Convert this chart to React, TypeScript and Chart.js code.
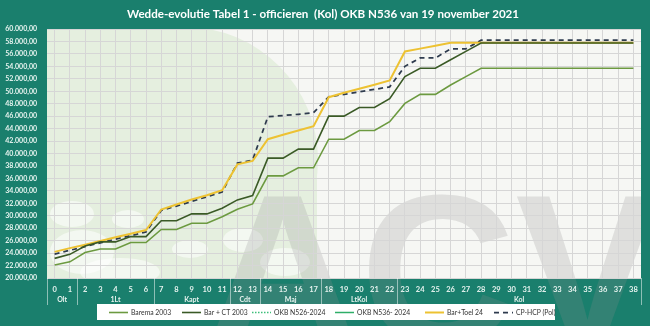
import React, { useEffect, useRef } from 'react';
import { Chart, registerables } from 'chart.js';

Chart.register(...registerables);

const categories = ['0','1','2','3','4','5','6','7','8','9','10','11','12','13','14','15','16','17','18','19','20','21','22','23','24','25','26','27','28','29','30','31','32','33','34','35','36','37','38'];

const groupLabels = ['Olt', '1Lt', 'Kapt', 'Cdt', 'Maj', 'LtKol', 'Kol'];
const groupStarts = [0, 2, 7, 12, 14, 18, 23];
const groupEnds = [1, 6, 11, 13, 17, 22, 38];

const barema2003 = [22100, 22600, 24100, 24650, 24650, 25700, 25700, 27800, 27800, 28800, 28800, 29850, 31050, 31900, 36400, 36400, 37700, 37700, 42300, 42300, 43700, 43700, 45100, 48050, 49500, 49500, 51000, 52350, 53700, 53700, 53700, 53700, 53700, 53700, 53700, 53700, 53700, 53700, 53700];
const barCT2003 = [23150, 23800, 25150, 25800, 25800, 26650, 26650, 29200, 29200, 30300, 30300, 31200, 32550, 33250, 39250, 39250, 40700, 40700, 46000, 46000, 47400, 47400, 48800, 52350, 53700, 53700, 55050, 56400, 57750, 57750, 57750, 57750, 57750, 57750, 57750, 57750, 57750, 57750, 57750];
const okbN526 = [null, null, null, null, null, null, null, null, null, null, null, null, null, null, null, null, null, null, null, null, null, null, null, null, null, null, null, null, null, null, null, null, null, null, null, null, null, null, null];
const okbN536 = [null, null, null, null, null, null, null, null, null, null, null, null, null, null, null, null, null, null, null, null, null, null, null, null, null, null, null, null, null, null, null, null, null, null, null, null, null, null, null];
const barToel24 = [24200, 24800, 25350, 25950, 26550, 27100, 27700, 31000, 31800, 32600, 33300, 34100, 38250, 38800, 42300, 43000, 43700, 44400, 49050, 49750, 50400, 51050, 51750, 56400, 56850, 57300, 57800, 57800, 57800, 57800, 57800, 57800, 57800, 57800, 57800, 57800, 57800, 57800, 57800];
const cpHcpPol = [23850, 24450, 25050, 25650, 26250, 26800, 27400, 30850, 31550, 32300, 33050, 33800, 38450, 38950, 45900, 46100, 46300, 46550, 49100, 49500, 49900, 50300, 50700, 54000, 55350, 55350, 56800, 56800, 58200, 58200, 58200, 58200, 58200, 58200, 58200, 58200, 58200, 58200, 58200];

const TEAL = '#1A7F6D';
const LABEL = '#E6F3EF';
const FONT = 'Lato, "Liberation Sans", sans-serif';

function fmt(v: number): string {
  const s = Math.round(v).toString();
  return s.replace(/\B(?=(\d{3})+(?!\d))/g, '.') + ',00';
}

const bgPlugin = {
  id: 'bgDecor',
  beforeDraw(chart: any) {
    const { ctx, chartArea: a, width, height } = chart;
    ctx.save();
    ctx.fillStyle = TEAL;
    ctx.fillRect(0, 0, width, height);
    ctx.save();
    ctx.beginPath();
    ctx.rect(a.left, a.top, a.right - a.left, a.bottom - a.top);
    ctx.clip();
    ctx.fillStyle = '#F6F7F4';
    ctx.fillRect(a.left, a.top, a.right - a.left, a.bottom - a.top);
    ctx.fillStyle = '#E5EFDF';
    ctx.beginPath();
    ctx.arc(185, 160, 133, 0, Math.PI * 2);
    ctx.fill();
    ctx.fillRect(a.left, a.top, 150, a.bottom - a.top);
    ctx.fillRect(a.left, 160, 270, a.bottom - 160);
    ctx.fillStyle = 'rgba(255,255,255,0.55)';
    const blobs = [[72, 214, 22, 13], [128, 219, 16, 9], [82, 252, 32, 22], [190, 249, 18, 9], [243, 240, 20, 12], [120, 272, 40, 14], [285, 262, 25, 14]];
    for (const b of blobs) {
      ctx.beginPath();
      ctx.ellipse(b[0], b[1], b[2], b[3], 0, 0, Math.PI * 2);
      ctx.fill();
    }
    ctx.restore();
    ctx.save();
    ctx.beginPath();
    ctx.rect(a.left, a.top, a.right - a.left, height - a.top);
    ctx.clip();
    ctx.fillStyle = 'rgba(140,140,140,0.22)';
    ctx.font = 'bold 215px "Liberation Sans", sans-serif';
    ctx.textBaseline = 'alphabetic';
    ctx.textAlign = 'left';
    ctx.fillText('ACV', 205, 345);
    ctx.restore();
    ctx.restore();
  },
};

const overlayPlugin = {
  id: 'overlay',
  afterDraw(chart: any) {
    const { ctx } = chart;
    const x = chart.scales.x;
    const a = chart.chartArea;
    const half = (x.getPixelForValue(1) - x.getPixelForValue(0)) / 2;
    ctx.save();
    ctx.fillStyle = '#FFFFFF';
    ctx.font = 'bold 11.6px ' + FONT;
    ctx.textAlign = 'center';
    ctx.textBaseline = 'middle';
    ctx.fillText('Wedde-evolutie Tabel 1 - officieren  (Kol) OKB N536 van 19 november 2021', 323, 14);
    ctx.strokeStyle = 'rgba(255,255,255,0.5)';
    ctx.lineWidth = 1;
    const lines: number[] = [];
    for (let i = 0; i < groupStarts.length; i++) {
      lines.push(x.getPixelForValue(groupStarts[i]) - half);
    }
    lines.push(x.getPixelForValue(groupEnds[groupEnds.length - 1]) + half);
    for (const lx of lines) {
      const px = Math.round(lx) + 0.5;
      ctx.beginPath();
      ctx.moveTo(px, a.bottom);
      ctx.lineTo(px, a.bottom + 27);
      ctx.stroke();
    }
    ctx.fillStyle = LABEL;
    ctx.font = 'bold 7px ' + FONT;
    for (let i = 0; i < groupLabels.length; i++) {
      const cx = (x.getPixelForValue(groupStarts[i]) + x.getPixelForValue(groupEnds[i])) / 2;
      ctx.fillText(groupLabels[i], cx, a.bottom + 22);
    }
    ctx.fillStyle = '#FFFFFF';
    ctx.fillRect(97, 304, 458, 16);
    const starts = [109, 182, 252, 335, 425, 494];
    ctx.font = '6.8px ' + FONT;
    ctx.textAlign = 'left';
    chart.data.datasets.forEach((ds: any, i: number) => {
      const sx = starts[i];
      const ly = 312.5;
      ctx.save();
      ctx.strokeStyle = ds.borderColor;
      ctx.lineWidth = ds.borderWidth || 1.5;
      ctx.setLineDash(ds.borderDash || []);
      ctx.beginPath();
      ctx.moveTo(sx, ly);
      ctx.lineTo(sx + 19, ly);
      ctx.stroke();
      ctx.restore();
      ctx.fillStyle = '#333333';
      ctx.fillText(ds.label, sx + 22, ly);
    });
    ctx.restore();
  },
};

export default function App() {
  const ref = useRef<HTMLCanvasElement | null>(null);
  useEffect(() => {
    document.body.style.margin = '0';
    const canvas = ref.current;
    if (!canvas) return;
    const chart = new Chart(canvas, {
      type: 'line',
      data: {
        labels: categories,
        datasets: [
          { label: 'Barema 2003', data: barema2003, borderColor: '#6C9A40', borderWidth: 1.6 },
          { label: 'Bar + CT 2003', data: barCT2003, borderColor: '#3A5A26', borderWidth: 1.6 },
          { label: 'OKB N526-2024', data: okbN526 as any, borderColor: '#3DBE7A', borderWidth: 1.5, borderDash: [1.5, 1.5] },
          { label: 'OKB N536- 2024', data: okbN536 as any, borderColor: '#2FAE68', borderWidth: 1.5 },
          { label: 'Bar+Toel 24', data: barToel24, borderColor: '#EDC232', borderWidth: 2 },
          { label: 'CP-HCP (Pol)', data: cpHcpPol, borderColor: '#2E3B4E', borderWidth: 1.75, borderDash: [5, 4] },
        ] as any,
      },
      options: {
        responsive: false,
        animation: false,
        events: [],
        layout: { padding: { top: 29, right: 9, left: 0, bottom: 0 } },
        elements: { point: { radius: 0 }, line: { tension: 0 } },
        plugins: { legend: { display: false }, title: { display: false }, tooltip: { enabled: false } },
        scales: {
          x: {
            offset: true,
            grid: { offset: false, color: '#D6D6D6', lineWidth: 1, drawTicks: false },
            border: { display: false },
            ticks: { color: LABEL, font: { family: FONT, size: 7.5, weight: 'bold' }, padding: 7, autoSkip: false, maxRotation: 0 },
            afterFit: (s: any) => { s.height = 48; },
          },
          y: {
            min: 20000,
            max: 60000,
            grid: { color: '#D6D6D6', lineWidth: 1, drawTicks: false },
            border: { display: false },
            ticks: { stepSize: 2000, color: LABEL, font: { family: FONT, size: 7, weight: 'bold' }, padding: 10, callback: (v: any) => fmt(Number(v)) },
            afterFit: (s: any) => { s.width = 47; },
          },
        },
      },
      plugins: [bgPlugin, overlayPlugin],
    } as any);
    return () => chart.destroy();
  }, []);
  return (
    <div style={{ width: 650, height: 326 }}>
      <canvas ref={ref} width={650} height={326} style={{ display: 'block' }} />
    </div>
  );
}
